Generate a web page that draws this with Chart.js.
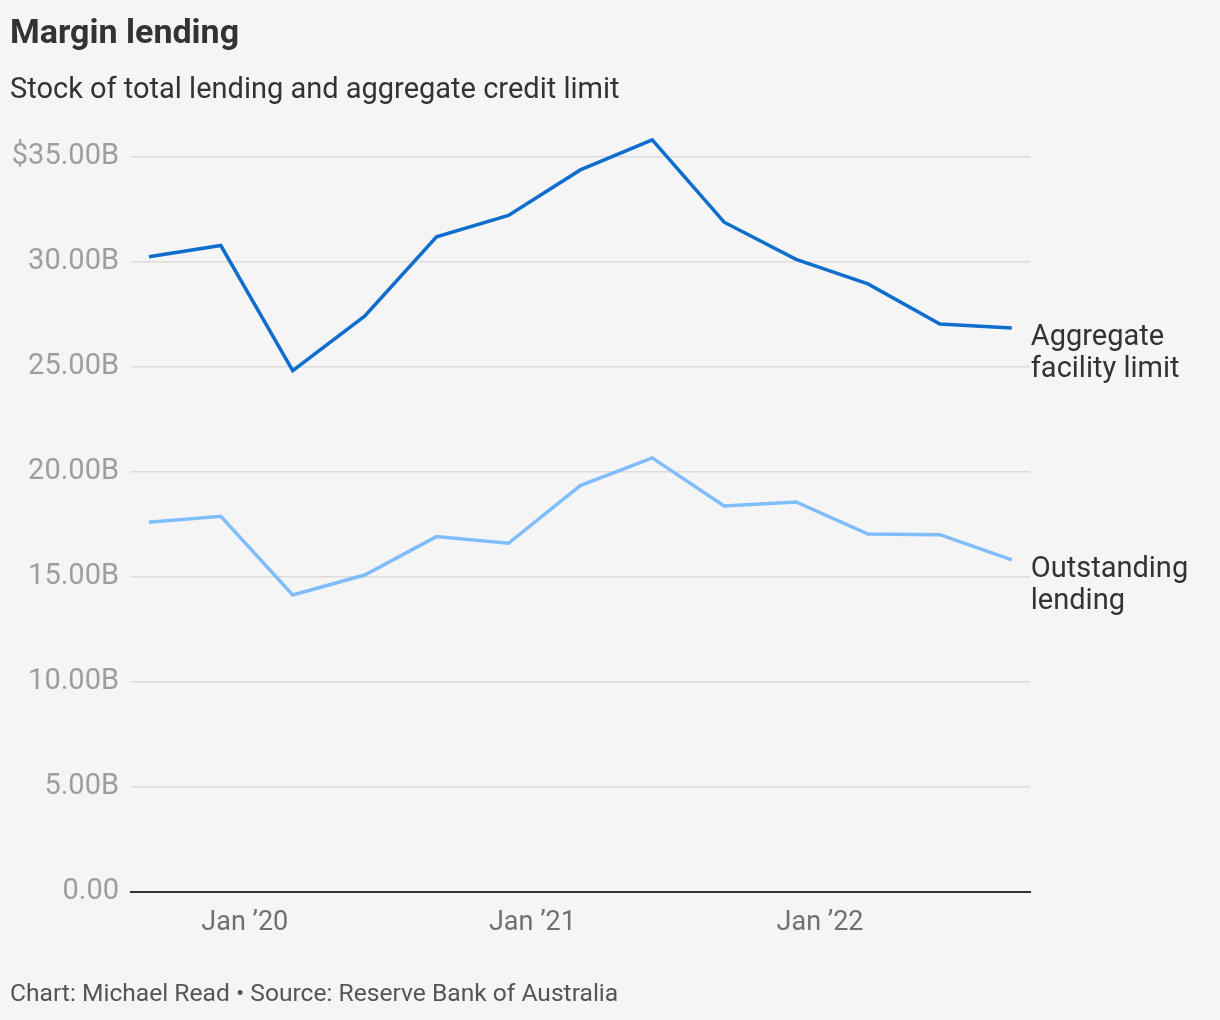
<!DOCTYPE html>
<html><head><meta charset="utf-8">
<script src="https://cdn.jsdelivr.net/npm/chart.js@4.4.1/dist/chart.umd.min.js"></script>
<style>
html,body{margin:0;padding:0;background:#f5f5f5;}
#wrap{position:relative;width:1220px;height:1020px;overflow:hidden;font-family:Roboto,sans-serif;background:#f5f5f5;}
canvas{position:absolute;left:0;top:0;}
.t{position:absolute;left:10px;white-space:nowrap;line-height:1;}
#title{top:14px;font-size:34px;font-weight:700;color:#333;}
#subtitle{top:74px;font-size:29px;color:#333;}
#footer{top:981px;font-size:24.6px;color:#555;}
</style></head>
<body><div id="wrap">
<canvas id="c" width="1220" height="1020"></canvas>
<div class="t" id="title">Margin lending</div>
<div class="t" id="subtitle">Stock of total lending and aggregate credit limit</div>
<div class="t" id="footer">Chart: Michael Read • Source: Reserve Bank of Australia</div>
</div>
<script>
// ---- data ----
const quarters = ['Sep 2019','Dec 2019','Mar 2020','Jun 2020','Sep 2020','Dec 2020','Mar 2021','Jun 2021','Sep 2021','Dec 2021','Mar 2022','Jun 2022','Sep 2022'];
const aggregateLimit = [30.24, 30.77, 24.81, 27.41, 31.19, 32.20, 34.37, 35.80, 31.88, 30.11, 28.94, 27.03, 26.84];
const outstandingLending = [17.59, 17.88, 14.13, 15.08, 16.91, 16.59, 19.34, 20.66, 18.37, 18.56, 17.03, 17.00, 15.80];
const seriesNames = [['Aggregate','facility limit'], ['Outstanding','lending']];
const xTickLabels = ['Jan \u201920', 'Jan \u201921', 'Jan \u201922'];
const xTickDates = ['Jan 2020', 'Jan 2021', 'Jan 2022'];
const yTickValues = [0, 5, 10, 15, 20, 25, 30, 35];
const yTickLabels = ['0.00', '5.00B', '10.00B', '15.00B', '20.00B', '25.00B', '30.00B', '$35.00B'];

// months since Jan 2019
const MONTHS = ['Jan','Feb','Mar','Apr','May','Jun','Jul','Aug','Sep','Oct','Nov','Dec'];
function monthIndex(s){ const [m,y] = s.split(' '); return (parseInt(y,10)-2019)*12 + MONTHS.indexOf(m); }
const xs = quarters.map(monthIndex);
const xTickValues = xTickDates.map(monthIndex);

const endLabels = {
  id: 'endLabels',
  afterDatasetsDraw(chart){
    const ctx = chart.ctx;
    chart.data.datasets.forEach((ds, i) => {
      const meta = chart.getDatasetMeta(i);
      const pt = meta.data[meta.data.length - 1];
      ctx.save();
      ctx.font = '29px Roboto';
      ctx.fillStyle = '#333';
      ctx.textAlign = 'left';
      ctx.textBaseline = 'alphabetic';
      seriesNames[i].forEach((line, j) => ctx.fillText(line, pt.x + 19, pt.y + 16.7 + j * 32));
      ctx.restore();
    });
  }
};

new Chart(document.getElementById('c'), {
  type: 'line',
  data: {
    datasets: [
      { label: seriesNames[0].join(' '), data: xs.map((x, i) => ({x, y: aggregateLimit[i]})),
        borderColor: '#0f6ecd', borderWidth: 3.5, pointRadius: 0, tension: 0, clip: false },
      { label: seriesNames[1].join(' '), data: xs.map((x, i) => ({x, y: outstandingLending[i]})),
        borderColor: '#80bdfb', borderWidth: 3.5, pointRadius: 0, tension: 0, clip: false }
    ]
  },
  options: {
    responsive: false,
    animation: false,
    devicePixelRatio: 1,
    layout: { padding: { top: 135.7, right: 190, bottom: 68.3, left: 0 } },
    plugins: { legend: { display: false }, tooltip: { enabled: false } },
    scales: {
      x: {
        type: 'linear', min: 7.253, max: 44.76,
        afterBuildTicks: s => { s.ticks = xTickValues.map(v => ({ value: v })); },
        afterFit: s => { s.height = 60; },
        grid: { display: false, drawTicks: false },
        border: { display: true, color: '#333', width: 2 },
        ticks: {
          autoSkip: false, maxRotation: 0, padding: 15,
          color: '#707070', font: { family: 'Roboto', size: 27 },
          callback: v => xTickLabels[xTickValues.indexOf(v)]
        }
      },
      y: {
        min: 0, max: 36,
        afterBuildTicks: s => { s.ticks = yTickValues.map(v => ({ value: v })); },
        afterFit: s => { s.width = 131; },
        grid: { drawTicks: false, lineWidth: 1.5,
          color: c => (c.tick && c.tick.value === 0) ? 'rgba(0,0,0,0)' : '#dcdcdc' },
        border: { display: false },
        ticks: {
          padding: 12, color: '#9e9e9e', font: { family: 'Roboto', size: 29 },
          callback: v => yTickLabels[yTickValues.indexOf(v)]
        }
      }
    }
  },
  plugins: [endLabels]
});
</script>
</body></html>
